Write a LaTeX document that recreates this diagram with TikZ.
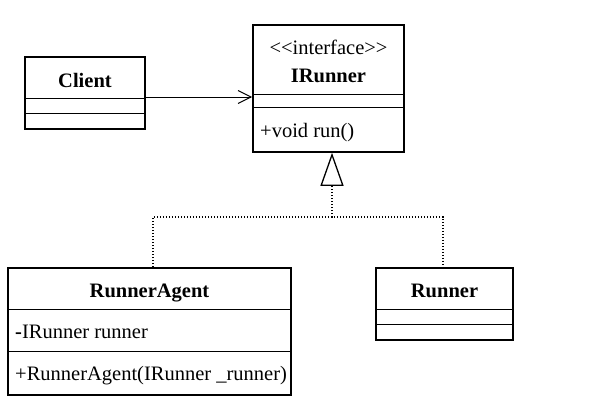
\documentclass[tikz,border=0pt]{standalone}
\usepackage{fontspec}
\setmainfont{Liberation Serif}
\usepackage{tikz}
\usetikzlibrary{arrows.meta}

\begin{document}
\begin{tikzpicture}[x=1pt,y=-1pt,line cap=butt,font=\fontsize{20.5}{24}\selectfont]
	\tikzstyle{cls}=[draw,rectangle,line width=1.6pt,inner sep=0pt];
	\tikzstyle{sep}=[line width=1.2pt];
	\tikzstyle{txt}=[inner sep=0pt,anchor=base];
	\tikzstyle{mem}=[inner sep=0pt,anchor=base west];
	\tikzstyle{real}=[line width=1.3pt,dash pattern=on 1.4pt off 1.6pt];
	\useasboundingbox (0,0) rectangle (599,405);
	\node[cls,minimum width=120pt,minimum height=72pt]  (client)  at (85,93)      {};
	\node[cls,minimum width=151pt,minimum height=127pt] (irunner) at (328.5,88.5) {};
	\node[cls,minimum width=283pt,minimum height=127pt] (agent)   at (149.5,331.5){};
	\node[cls,minimum width=137pt,minimum height=72pt]  (runner)  at (444.5,304)  {};
	\foreach \n/\d in {client/42,client/57,irunner/70,irunner/83,agent/42,agent/84,runner/42,runner/57}
		\draw[sep] ([yshift=-\d pt]\n.north west) -- ([yshift=-\d pt]\n.north east);
	\node[txt] (clientname)  at (85,87)    {\textbf{Client}};
	\node[txt] (stereo)      at (328.5,54) {{<}{<}interface{>}{>}};
	\node[txt] (irunnername) at (328.5,82) {\textbf{IRunner}};
	\node[mem] (run)         at (260,137)  {+void run()};
	\node[txt] (agentname)   at (149.5,297){\textbf{RunnerAgent}};
	\node[mem] (field)       at (15,338)   {\textbf{-}IRunner runner};
	\node[mem] (ctor)        at (15,380)   {+RunnerAgent(IRunner \_runner)};
	\node[txt] (runnername)  at (444.5,297){\textbf{Runner}};
	\coordinate (join) at (332,217);
	\draw[line width=1pt,-{Straight Barb[length=13pt,width=13pt,line width=1pt]}]
		([yshift=-4pt]client.east) -- ([yshift=-4pt]client.east -| irunner.west);
	\draw[real] ([xshift=3.5pt]agent.north) |- (join) -| ([xshift=-1.5pt]runner.north);
	\draw[real,-{Triangle[open,length=33pt,width=23pt,line width=1.3pt]}] (join) -- (join |- irunner.south);
\end{tikzpicture}
\end{document}
